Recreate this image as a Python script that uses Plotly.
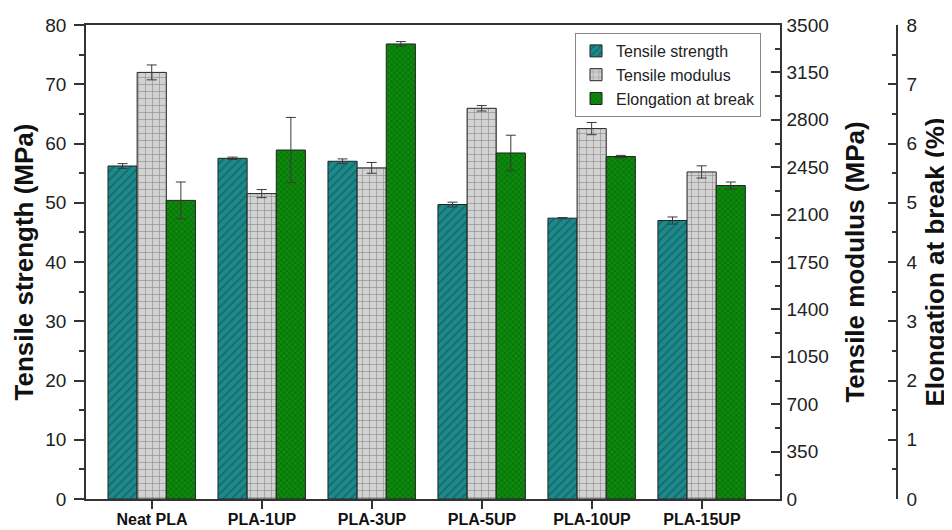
import plotly.graph_objects as go

categories = ["Neat PLA", "PLA-1UP", "PLA-3UP", "PLA-5UP", "PLA-10UP", "PLA-15UP"]

tensile_strength = [56.2, 57.5, 57.0, 49.7, 47.4, 47.0]
tensile_strength_err = [0.4, 0.2, 0.4, 0.4, 0.1, 0.6]

tensile_modulus = [3150, 2255, 2445, 2885, 2735, 2415]
tensile_modulus_err = [55, 30, 40, 20, 45, 45]

elongation = [5.04, 5.89, 7.68, 5.84, 5.78, 5.29]
elongation_err = [0.31, 0.55, 0.04, 0.30, 0.02, 0.06]

x_idx = list(range(len(categories)))
FONT = "Arial, Liberation Sans, sans-serif"
W = 0.265

err_style = dict(type="data", visible=True, color="#3a3a3a", thickness=1, width=5)

fig = go.Figure()
fig.add_trace(go.Bar(
    x=x_idx, y=tensile_strength, name="Tensile strength", yaxis="y",
    width=W, offset=-0.4,
    error_y=dict(array=tensile_strength_err, **err_style),
    marker=dict(color="#1a8a8c", line=dict(color="#222", width=1),
                pattern=dict(shape="/", fgcolor="#1c4446", bgcolor="#1a8a8c", size=6, solidity=0.3)),
))
fig.add_trace(go.Bar(
    x=x_idx, y=tensile_modulus, name="Tensile modulus", yaxis="y2",
    width=W, offset=-0.4 + W,
    error_y=dict(array=tensile_modulus_err, **err_style),
    marker=dict(color="#cfcfcf", line=dict(color="#222", width=1),
                pattern=dict(shape="+", fgcolor="#333", bgcolor="#d2d2d2", size=7, solidity=0.15)),
))
fig.add_trace(go.Bar(
    x=x_idx, y=elongation, name="Elongation at break", yaxis="y3",
    width=W, offset=-0.4 + 2 * W,
    error_y=dict(array=elongation_err, **err_style),
    marker=dict(color="#0a7d0a", line=dict(color="#222", width=1),
                pattern=dict(shape="x", fgcolor="#0a3a0a", bgcolor="#0c8a0c", size=4, solidity=0.3)),
))

# page is rendered with an 8px body margin, so the figure is sized to fit the window
W_PX, H_PX = 944, 522
ml, mr, mt, mb = 78, 4, 17, 31
pw = W_PX - ml - mr
ph = H_PX - mt - mb
x_end = (772 - ml) / pw
y3_pos = (889 - ml) / pw

axis_line = dict(showline=True, linecolor="#333", linewidth=1.5)
tickfont = dict(family=FONT, size=19, color="#222")
titlefont = dict(family=FONT, size=26, color="#111", weight="bold")

fig.update_layout(
    width=W_PX, height=H_PX,
    margin=dict(l=ml, r=mr, t=mt, b=mb, autoexpand=False),
    paper_bgcolor="white", plot_bgcolor="white",
    showlegend=True,
    legend=dict(x=(567 - ml) / pw, y=1 - (25 - mt) / ph, xanchor="left", yanchor="top",
                font=dict(family=FONT, size=16, color="#222"),
                bgcolor="rgba(255,255,255,0.9)", bordercolor="#888", borderwidth=1),
    xaxis=dict(domain=[0, x_end], range=[-0.6, 5.71], automargin=False,
               tickmode="array", tickvals=x_idx, ticktext=categories,
               ticks="outside", ticklen=8, tickcolor="#333", tickwidth=1.5,
               ticklabelstandoff=-3,
               tickfont=dict(family=FONT, size=16, color="#111", weight="bold"),
               mirror=True, showgrid=False, zeroline=False, **axis_line),
    yaxis=dict(range=[0, 80], dtick=10, ticks="outside", ticklen=10, tickcolor="#333",
               tickwidth=1.5, tickfont=tickfont, automargin=False, ticklabelstandoff=4,
               minor=dict(dtick=5, ticks="outside", ticklen=5, tickcolor="#333", tickwidth=1.5),
               title=dict(text="Tensile strength (MPa)", font=titlefont, standoff=4),
               showgrid=False, zeroline=False, **axis_line),
    yaxis2=dict(range=[0, 3500], dtick=350, overlaying="y", side="right", anchor="x",
                automargin=False, ticklabelstandoff=1,
                ticks="inside", ticklen=9, tickcolor="#333", tickwidth=1.5, tickfont=tickfont,
                minor=dict(dtick=175, ticks="inside", ticklen=5, tickcolor="#333", tickwidth=1.5),
                title=dict(text="Tensile modulus (MPa)", font=titlefont, standoff=18),
                showgrid=False, zeroline=False, **axis_line),
    yaxis3=dict(range=[0, 8], dtick=1, overlaying="y", side="right", anchor="free",
                position=y3_pos, automargin=False, ticklabelstandoff=5,
                ticks="inside", ticklen=8, tickcolor="#333", tickwidth=1.5, tickfont=tickfont,
                minor=dict(dtick=0.5, ticks="inside", ticklen=4, tickcolor="#333", tickwidth=1.5),
                title=dict(text="Elongation at break (%)", font=titlefont, standoff=8),
                showgrid=False, zeroline=False, **axis_line),
)

fig.write_html("out.html")
